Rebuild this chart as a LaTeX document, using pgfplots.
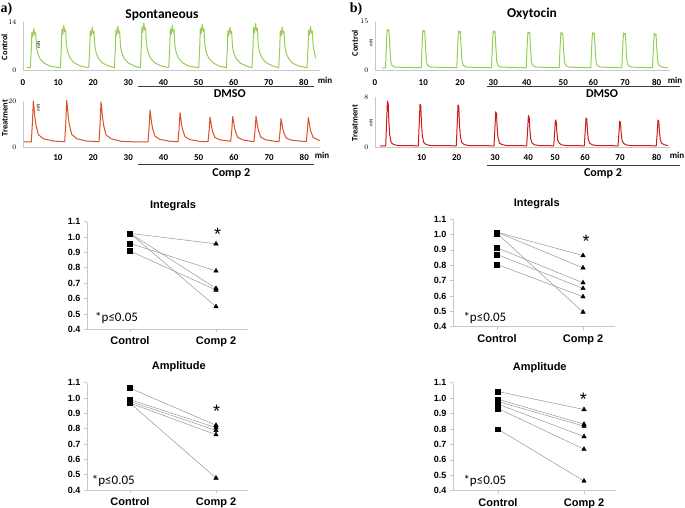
\documentclass[border=0pt]{standalone}
\usepackage{pgfplots}
\pgfplotsset{compat=1.18}
\usepackage{fontspec}
\setmainfont{Liberation Sans}
\newfontfamily\calib{Carlito}
\newfontfamily\tms{Liberation Serif}
\definecolor{ctrlgreen}{RGB}{150,205,85}
\definecolor{trtorange}{RGB}{220,80,40}
\definecolor{trtred}{RGB}{205,25,30}
\definecolor{axgray}{RGB}{200,200,200}
\definecolor{linegray}{RGB}{150,150,150}
\definecolor{barline}{RGB}{60,60,60}

\pgfplotsset{
  trace/.style={
    scale only axis, anchor=south west, clip=false,
    axis x line=bottom, axis y line=left,
    axis line style={draw=axgray, line width=0.5pt, -},
    ymin=0,
    xtick style={draw=none}, ytick style={draw=none},
    xticklabels={0,10,20,30,40,50,60,70,80},
    xticklabel style={font=\calib\bfseries\fontsize{9}{10}\selectfont, anchor=center},
    yticklabel style={font=\calib\fontsize{7}{8}\selectfont, anchor=east, xshift=-1pt},
    every axis plot/.append style={line width=1pt, no markers, line join=round},
  },
  dots/.style={
    scale only axis, anchor=south west, clip=false,
    axis x line=bottom, axis y line=left,
    axis line style={draw=axgray, line width=0.6pt, -},
    ymin=0.4, ymax=1.1,
    ytick={0.4,0.5,0.6,0.7,0.8,0.9,1.0,1.1},
    yticklabels={0.4,0.5,0.6,0.7,0.8,0.9,1.0,1.1},
    xtick={1,2}, xticklabels={Control,Comp 2},
    tick align=outside, major tick length=3pt,
    tick style={draw=axgray, line width=0.6pt},
    yticklabel style={font=\bfseries\fontsize{9}{10}\selectfont, anchor=east},
    xticklabel style={font=\bfseries\fontsize{11}{12}\selectfont, anchor=base, yshift=-12.3pt},
  },
  pair/.style={draw=linegray, line width=0.5pt, no markers},
  ctl/.style={only marks, mark=square*, mark size=2.4pt, black},
  cmp/.style={only marks, mark=triangle*, mark size=2.6pt, black},
}

\begin{document}
\begin{tikzpicture}
\path[use as bounding box] (0pt,0pt) rectangle (685pt,507pt);

% ---------- panel a, spontaneous ----------
\begin{axis}[trace, at={(23pt,436.5pt)}, width=297pt, height=48.5pt,
  xmin=23, xmax=320, ymax=14, ytick={0,14},
  xtick={23,58.1,93.2,128.3,163.4,198.5,233.6,268.7,303.8},
  xticklabel style={yshift=-9.5pt}]
\addplot[ctrlgreen] coordinates {
(27,0.9)
(30.3,0.8) (31.3,6.1) (31.9,11.1) (32.8,9.7) (33.8,12.1) (34.8,10.3) (35.6,10.9) (36.5,6.7) (37.8,4.8) (40.3,3.3) (44.3,2.1) (50.3,1.2)
(60.3,0.8) (61.3,6.5) (61.9,12.0) (62.8,10.4) (63.8,13.0) (64.8,11.1) (65.6,11.7) (66.5,7.2) (67.8,5.2) (70.3,3.5) (74.3,2.2) (80.3,1.3)
(88.7,0.8) (89.7,6.3) (90.3,11.5) (91.2,10.0) (92.2,12.5) (93.2,10.6) (94.0,11.3) (94.9,6.9) (96.2,5.0) (98.7,3.4) (102.7,2.1) (108.7,1.3)
(114.3,0.8) (115.3,6.4) (115.9,11.7) (116.8,10.2) (117.8,12.7) (118.8,10.8) (119.6,11.4) (120.5,7.0) (121.8,5.1) (124.3,3.4) (128.3,2.2) (134.3,1.3)
(140.3,0.8) (141.3,6.9) (141.9,12.6) (142.8,11.0) (143.8,13.7) (144.8,11.6) (145.6,12.3) (146.5,7.5) (147.8,5.5) (150.3,3.7) (154.3,2.3) (160.3,1.4)
(168.7,0.8) (169.7,6.5) (170.3,12.0) (171.2,10.4) (172.2,13.0) (173.2,11.1) (174.0,11.7) (174.9,7.2) (176.2,5.2) (178.7,3.5) (182.7,2.2) (188.7,1.3)
(198.7,0.8) (199.7,6.7) (200.3,12.2) (201.2,10.6) (202.2,13.3) (203.2,11.3) (204.0,12.0) (204.9,7.3) (206.2,5.3) (208.7,3.6) (212.7,2.3) (218.7,1.3)
(226.3,0.8) (227.3,6.3) (227.9,11.5) (228.8,10.0) (229.8,12.5) (230.8,10.6) (231.6,11.3) (232.5,6.9) (233.8,5.0) (236.3,3.4) (240.3,2.1) (246.3,1.3)
(252.0,0.8) (253.0,6.8) (253.6,12.4) (254.5,10.8) (255.5,13.5) (256.5,11.5) (257.3,12.2) (258.2,7.4) (259.5,5.4) (262.0,3.6) (266.0,2.3) (272.0,1.4)
(278.7,0.8) (279.7,6.3) (280.3,11.5) (281.2,10.0) (282.2,12.5) (283.2,10.6) (284.0,11.3) (284.9,6.9) (286.2,5.0) (288.7,3.4) (292.7,2.1) (298.7,1.3)
(307.0,0.8) (308.0,6.4) (308.6,11.7) (309.5,10.2) (310.5,12.7) (311.5,10.8) (312.3,11.4) (313.2,7.0) (314.5,5.1) (315.5,3.5)
};
\end{axis}

\begin{axis}[trace, at={(23pt,360pt)}, width=297pt, height=46pt,
  xmin=23, xmax=320, ymax=20, ytick={0,20},
  xtick={22.7,57.9,93.1,128.3,163.5,198.7,233.9,269.1,304.3},
  xticklabel style={yshift=-8.7pt}]
\addplot[trtorange] coordinates {
(24,2.3) (28,2.2)
(31.3,2.2) (32.5,11.1) (33.3,20.0) (34.0,17.3) (34.8,13.2) (36.0,9.5) (38.3,5.4) (43.3,3.6) (53.3,2.6)
(64.7,2.3) (65.9,11.3) (66.7,20.3) (67.4,17.6) (68.2,13.4) (69.4,9.6) (71.7,5.5) (76.7,3.6) (86.7,2.6)
(99.0,2.3) (100.2,10.9) (101.0,19.6) (101.7,17.0) (102.5,13.0) (103.7,9.3) (106.0,5.3) (111.0,3.6) (121.0,2.5) (135,2.2)
(148.0,2.2) (149.2,9.1) (150.0,16.0) (150.7,13.9) (151.5,10.8) (152.7,7.9) (155.0,4.7) (160.0,3.3) (170.0,2.5)
(178.0,2.3) (179.2,8.6) (180.0,14.9) (180.7,13.0) (181.5,10.1) (182.7,7.4) (185.0,4.5) (190.0,3.2) (200.0,2.45)
(208.0,2.3) (209.2,7.6) (210.0,13.0) (210.7,11.4) (211.5,8.9) (212.7,6.6) (215.0,4.1) (220.0,3.1)
(230.7,2.5) (231.9,7.9) (232.7,13.3) (233.4,11.6) (234.2,9.1) (235.4,6.8) (237.7,4.2) (242.7,3.1) (252.0,2.4)
(254.0,2.4) (255.2,7.9) (256.0,13.3) (256.7,11.6) (257.5,9.1) (258.7,6.8) (261.0,4.2) (266.0,3.1) (276.0,2.4)
(279.0,2.4) (280.2,7.3) (281.0,12.3) (281.7,10.8) (282.5,8.5) (283.7,6.3) (286.0,4.0) (291.0,3.0) (304.0,2.4)
(306.3,2.4) (307.5,7.6) (308.3,12.8) (309.0,11.2) (309.8,8.8) (311.0,6.5) (313.3,4.1) (318.0,3.1) (320.0,2.8)
};
\end{axis}

% ---------- panel b, oxytocin ----------
\begin{axis}[trace, at={(375pt,436.3pt)}, width=295pt, height=49pt,
  xmin=375, xmax=670, ymax=15, ytick={0,15},
  xtick={375,423.3,460,493.3,526.7,563.3,593.3,625,656.7},
  xticklabel style={yshift=-9.3pt}]
\addplot[ctrlgreen] coordinates {
(382,0.9)
(385.5,0.9) (386.7,10.2) (387.3,12.7) (388.3,12.2) (389.0,12.4) (389.8,7.6) (390.8,2.8) (392.0,1.6) (395.0,1.1)
(421.2,0.9) (422.4,9.9) (423.0,12.4) (424.0,11.9) (424.7,12.2) (425.5,7.4) (426.5,2.7) (427.7,1.6) (430.7,1.1)
(456.8,0.9) (458.0,9.8) (458.6,12.2) (459.6,11.7) (460.3,12.0) (461.1,7.3) (462.1,2.7) (463.3,1.6) (466.3,1.1)
(491.5,0.9) (492.7,9.8) (493.3,12.2) (494.3,11.7) (495.0,12.0) (495.8,7.3) (496.8,2.7) (498.0,1.6) (501.0,1.1)
(526.2,0.9) (527.4,9.5) (528.0,11.9) (529.0,11.4) (529.7,11.7) (530.5,7.1) (531.5,2.6) (532.7,1.6) (535.7,1.1)
(559.2,0.9) (560.4,9.4) (561.0,11.7) (562.0,11.2) (562.7,11.5) (563.5,7.0) (564.5,2.6) (565.7,1.6) (568.7,1.1)
(590.8,0.9) (592.0,9.4) (592.6,11.7) (593.6,11.2) (594.3,11.5) (595.1,7.0) (596.1,2.6) (597.3,1.6) (600.3,1.1)
(621.8,0.9) (623.0,9.3) (623.6,11.6) (624.6,11.1) (625.3,11.4) (626.1,7.0) (627.1,2.6) (628.3,1.6) (631.3,1.1)
(652.5,0.9) (653.7,9.1) (654.3,11.4) (655.3,10.9) (656.0,11.2) (656.8,6.8) (657.8,2.5) (659.0,1.6) (662.0,1.1) (668.0,0.9)
};
\end{axis}

\begin{axis}[trace, at={(375pt,359.3pt)}, width=295pt, height=50.4pt,
  xmin=375, xmax=670, ymax=8, ytick={0,8},
  xtick={374.3,421.7,456.7,495,528.3,555,585,620,656.7},
  xticklabel style={yshift=-8pt}]
\addplot[trtred] coordinates {
(380,0.3)
(385.7,0.3) (386.7,4.4) (387.4,7.4) (388.2,7.0) (388.9,4.1) (389.7,2.1) (391.2,0.8) (393.7,0.5) (397.7,0.35)
(418.3,0.3) (419.3,4.1) (420.0,6.9) (420.8,6.6) (421.5,3.8) (422.3,1.9) (423.8,0.8) (426.3,0.5) (430.3,0.35)
(456.3,0.3) (457.3,4.1) (458.0,6.8) (458.8,6.5) (459.5,3.7) (460.3,1.9) (461.8,0.8) (464.3,0.5) (468.3,0.35)
(494.0,0.3) (495.0,3.4) (495.7,5.7) (496.5,5.4) (497.2,3.1) (498.0,1.6) (499.5,0.7) (502.0,0.5) (506.0,0.35)
(526.7,0.3) (527.7,3.1) (528.4,5.1) (529.2,4.8) (529.9,2.8) (530.7,1.4) (532.2,0.7) (534.7,0.45) (538.7,0.35)
(553.7,0.3) (554.7,2.6) (555.4,4.4) (556.2,4.2) (556.9,2.4) (557.7,1.2) (559.2,0.7) (561.7,0.45) (565.7,0.35)
(584.3,0.3) (585.3,2.8) (586.0,4.7) (586.8,4.5) (587.5,2.6) (588.3,1.3) (589.8,0.7) (592.3,0.45) (596.3,0.35)
(618.0,0.3) (619.0,2.5) (619.7,4.2) (620.5,4.0) (621.2,2.3) (622.0,1.2) (623.5,0.7) (626.0,0.45) (630.0,0.35)
(656.3,0.3) (657.3,2.6) (658.0,4.4) (658.8,4.2) (659.5,2.4) (660.3,1.2) (661.8,0.7) (664.3,0.45) (668.0,0.35)
};
\end{axis}

% ---------- paired plots ----------
\begin{axis}[dots, at={(87pt,177.7pt)}, width=161pt, height=107.8pt, xmin=0.5, xmax=2.372]
\addplot[pair] coordinates {(1,1.023) (2,0.955)};
\addplot[pair] coordinates {(1,1.023) (2,0.666)};
\addplot[pair] coordinates {(1,1.023) (2,0.547)};
\addplot[pair] coordinates {(1,0.958) (2,0.779)};
\addplot[pair] coordinates {(1,0.908) (2,0.655)};
\addplot[ctl] coordinates {(1,1.023) (1,0.958) (1,0.908)};
\addplot[cmp] coordinates {(2,0.955) (2,0.779) (2,0.666) (2,0.655) (2,0.547)};
\end{axis}

\begin{axis}[dots, at={(87pt,17pt)}, width=161pt, height=107.3pt, xmin=0.5, xmax=2.372]
\addplot[pair] coordinates {(1,1.065) (2,0.822)};
\addplot[pair] coordinates {(1,0.990) (2,0.807)};
\addplot[pair] coordinates {(1,0.978) (2,0.789)};
\addplot[pair] coordinates {(1,0.967) (2,0.761)};
\addplot[pair] coordinates {(1,0.967) (2,0.478)};
\addplot[ctl] coordinates {(1,1.065) (1,0.990) (1,0.978) (1,0.967)};
\addplot[cmp] coordinates {(2,0.822) (2,0.807) (2,0.789) (2,0.761) (2,0.478)};
\end{axis}

\begin{axis}[dots, at={(453pt,180.3pt)}, width=162pt, height=107.6pt, xmin=0.488, xmax=2.372]
\addplot[pair] coordinates {(1,1.015) (2,0.863)};
\addplot[pair] coordinates {(1,1.015) (2,0.783)};
\addplot[pair] coordinates {(1,1.007) (2,0.495)};
\addplot[pair] coordinates {(1,0.913) (2,0.686)};
\addplot[pair] coordinates {(1,0.870) (2,0.649)};
\addplot[pair] coordinates {(1,0.805) (2,0.595)};
\addplot[ctl] coordinates {(1,1.015) (1,1.007) (1,0.913) (1,0.870) (1,0.805)};
\addplot[cmp] coordinates {(2,0.863) (2,0.783) (2,0.686) (2,0.649) (2,0.595) (2,0.495)};
\end{axis}

\begin{axis}[dots, at={(453pt,16.3pt)}, width=163pt, height=108pt, xmin=0.477, xmax=2.372]
\addplot[pair] coordinates {(1,1.043) (2,0.926)};
\addplot[pair] coordinates {(1,0.993) (2,0.831)};
\addplot[pair] coordinates {(1,0.978) (2,0.818)};
\addplot[pair] coordinates {(1,0.961) (2,0.751)};
\addplot[pair] coordinates {(1,0.933) (2,0.669)};
\addplot[pair] coordinates {(1,0.799) (2,0.463)};
\addplot[ctl] coordinates {(1,1.043) (1,0.993) (1,0.978) (1,0.961) (1,0.933) (1,0.799)};
\addplot[cmp] coordinates {(2,0.926) (2,0.831) (2,0.818) (2,0.751) (2,0.669) (2,0.463)};
\end{axis}

% ---------- text and brackets ----------
\node[font=\tms\bfseries\fontsize{14}{14}\selectfont, inner sep=0] at (6.5pt,498pt) {a)};
\node[font=\tms\bfseries\fontsize{14}{14}\selectfont, inner sep=0] at (356pt,498pt) {b)};
\node[font=\calib\bfseries\fontsize{13.5}{14}\selectfont, inner sep=0, anchor=base] at (162pt,488pt) {Spontaneous};
\node[font=\calib\bfseries\fontsize{13.5}{14}\selectfont, inner sep=0, anchor=base] at (532pt,489pt) {Oxytocin};

\begin{scope}[every node/.style={inner sep=0, rotate=90, font=\calib\bfseries\fontsize{8.5}{9}\selectfont}]
\node at (4.5pt,460pt) {Control};
\node at (5pt,389pt) {Treatment};
\node at (355pt,463.7pt) {Control};
\node at (355pt,384pt) {Treatment};
\end{scope}
\begin{scope}[every node/.style={inner sep=0, rotate=90, font=\calib\fontsize{5}{5}\selectfont}]
\node at (38.5pt,462pt) {mN};
\node at (38.3pt,399.5pt) {mN};
\node at (371pt,463.7pt) {mN};
\node at (371pt,383.7pt) {mN};
\end{scope}
\begin{scope}[every node/.style={inner sep=0, font=\calib\bfseries\fontsize{9}{10}\selectfont}]
\node at (325pt,427pt) {min};
\node at (322pt,351.3pt) {min};
\node at (675pt,427pt) {min};
\node at (677pt,351.3pt) {min};
\end{scope}

\draw[barline, line width=1.2pt] (138pt,420.5pt) -- (314pt,420.5pt);
\draw[barline, line width=1.2pt] (138pt,342.5pt) -- (314pt,342.5pt);
\draw[barline, line width=1.2pt] (487pt,420.7pt) -- (680pt,420.7pt);
\draw[barline, line width=1.2pt] (487pt,341.7pt) -- (680pt,341.7pt);
\begin{scope}[every node/.style={inner sep=0, anchor=base, font=\calib\bfseries\fontsize{12}{12}\selectfont}]
\node at (229.7pt,409.7pt) {DMSO};
\node at (602pt,409.7pt) {DMSO};
\node at (231.3pt,330.3pt) {Comp 2};
\node at (603pt,330.3pt) {Comp 2};
\end{scope}

\begin{scope}[every node/.style={inner sep=0, anchor=base, font=\bfseries\fontsize{11}{12}\selectfont}]
\node at (173pt,298.7pt) {Integrals};
\node at (536.7pt,301pt) {Integrals};
\node at (178.8pt,137.7pt) {Amplitude};
\node at (539.7pt,137pt) {Amplitude};
\end{scope}
\begin{scope}[every node/.style={inner sep=0, anchor=base west, font=\calib\fontsize{13}{13}\selectfont}]
\node at (95pt,186pt) {*p≤0.05};
\node at (463.3pt,186pt) {*p≤0.05};
\node at (91.7pt,23pt) {*p≤0.05};
\node at (463.3pt,23pt) {*p≤0.05};
\end{scope}
\begin{scope}[every node/.style={inner sep=0, anchor=north, font=\fontsize{18}{18}\selectfont}]
\node at (217.5pt,278.7pt) {*};
\node at (586pt,272pt) {*};
\node at (216.7pt,102pt) {*};
\node at (583.3pt,113.7pt) {*};
\end{scope}
\end{tikzpicture}
\end{document}
